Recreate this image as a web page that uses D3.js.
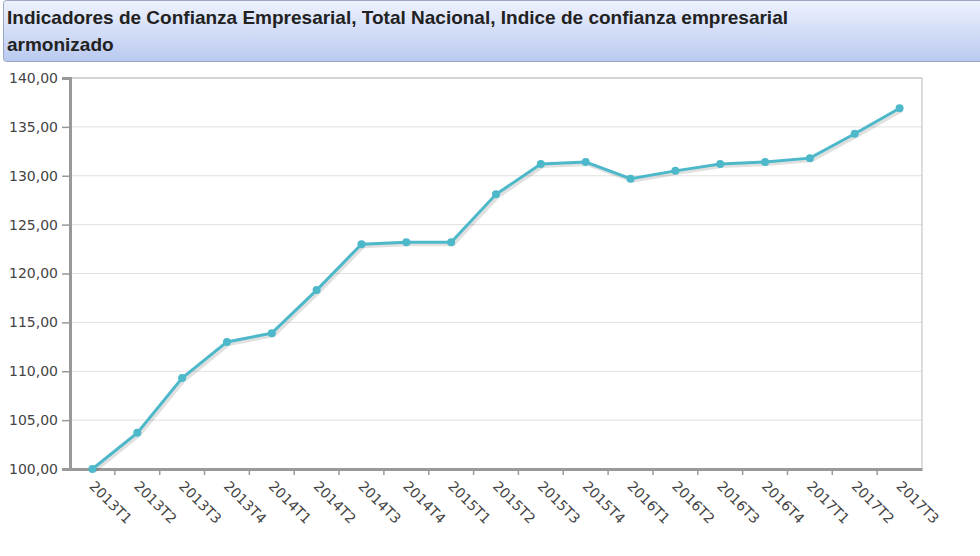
<!DOCTYPE html>
<html><head><meta charset="utf-8">
<script src="https://cdn.jsdelivr.net/npm/d3@7"></script>
<style>
body{margin:0;background:#fff;font-family:"DejaVu Sans",Arial,sans-serif}
</style></head>
<body><svg id="c" width="980" height="556"></svg>
<script>
const periods = ["2013T1","2013T2","2013T3","2013T4","2014T1","2014T2","2014T3","2014T4","2015T1","2015T2","2015T3","2015T4","2016T1","2016T2","2016T3","2016T4","2017T1","2017T2","2017T3"]
const values = [100.0,103.7,109.3,113.0,113.9,118.3,123.0,123.2,123.2,128.1,131.2,131.4,129.7,130.5,131.2,131.4,131.8,134.3,136.9]
const yTicks = [100,105,110,115,120,125,130,135,140]

const svg = d3.select("#c")
const mLeft = 70, mRight = 922, mTop = 78, mBottom = 469

// title bar
const grad = svg.append("defs").append("linearGradient").attr("id","tg").attr("x1",0).attr("y1",0).attr("x2",0).attr("y2",1)
grad.append("stop").attr("offset","0%").attr("stop-color","#eef2fd")
grad.append("stop").attr("offset","100%").attr("stop-color","#b9c9f0")
svg.append("rect").attr("x",3.5).attr("y",0.5).attr("width",990).attr("height",61).attr("rx",3)
    .attr("fill","url(#tg)").attr("stroke","#9aa6c4")
svg.append("text").attr("x",7).attr("y",24).attr("font-size",19).attr("font-weight","bold")
    .attr("font-family","Liberation Sans, Arial, sans-serif").attr("fill","#222")
    .text("Indicadores de Confianza Empresarial, Total Nacional, Indice de confianza empresarial")
svg.append("text").attr("x",7).attr("y",51).attr("font-size",19).attr("font-weight","bold")
    .attr("font-family","Liberation Sans, Arial, sans-serif").attr("fill","#222")
    .text("armonizado")

const x = d3.scaleBand().domain(periods).range([mLeft, mRight])
const y = d3.scaleLinear().domain([100,140]).range([mBottom, mTop])
const fmt = d => d3.format(".2f")(d).replace(".", ",")

// grid
svg.append("g").selectAll("line").data(yTicks).join("line")
    .attr("x1",mLeft).attr("x2",mRight).attr("y1",d=>y(d)).attr("y2",d=>y(d))
    .attr("stroke","#e0e0e0")
svg.append("rect").attr("x",mLeft).attr("y",mTop).attr("width",mRight-mLeft).attr("height",mBottom-mTop)
    .attr("fill","none").attr("stroke","#bbb")

// y axis
const ya = svg.append("g").attr("transform",`translate(${mLeft},0)`)
    .call(d3.axisLeft(y).tickValues(yTicks).tickFormat(fmt).tickSize(8).tickPadding(4))
ya.select(".domain").attr("stroke","#999").attr("stroke-width",3)
ya.selectAll(".tick line").attr("stroke","#999").attr("stroke-width",1.5)
ya.selectAll("text").attr("font-size",14).attr("fill","#444").attr("font-family","DejaVu Sans, sans-serif")

// x axis, ticks at band boundaries
const xa = svg.append("g").attr("transform",`translate(0,${mBottom})`)
    .call(d3.axisBottom(x).tickSize(0).tickPadding(0))
xa.select(".domain").attr("stroke","#999").attr("stroke-width",3)
xa.selectAll(".tick text").attr("font-size",14).attr("fill","#444").attr("font-family","DejaVu Sans, sans-serif")
    .attr("text-anchor","start").attr("dy",0)
    .attr("transform","translate(-4,18) rotate(45)")
xa.append("g").selectAll("line").data(periods.slice(1)).join("line")
    .attr("x1",d=>x(d)).attr("x2",d=>x(d)).attr("y1",0).attr("y2",6)
    .attr("stroke","#999").attr("stroke-width",1.5)

// line + points
const cx = d => x(d) + x.bandwidth()/2
const line = d3.line().x((d,i)=>cx(periods[i])).y(d=>y(d))
svg.append("path").datum(values).attr("d",line).attr("transform","translate(2,2)")
    .attr("fill","none").attr("stroke","rgba(0,0,0,0.12)").attr("stroke-width",4)
svg.append("path").datum(values).attr("d",line)
    .attr("fill","none").attr("stroke","#4db8c9").attr("stroke-width",3)
svg.append("g").selectAll("circle").data(values).join("circle")
    .attr("cx",(d,i)=>cx(periods[i])).attr("cy",d=>y(d)).attr("r",4)
    .attr("fill","#4db8c9")
</script></body></html>
